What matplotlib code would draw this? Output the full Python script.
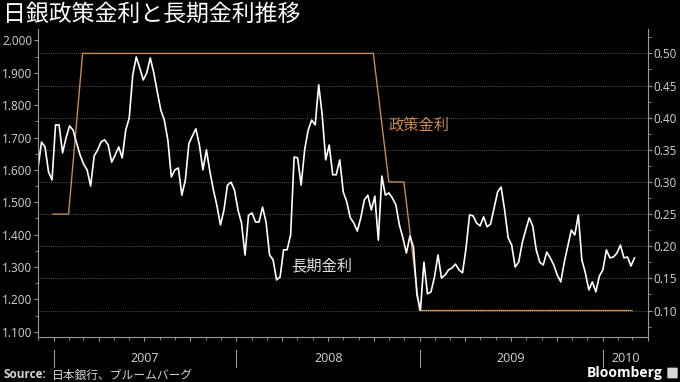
import matplotlib.pyplot as plt
import matplotlib.dates as mdates
import matplotlib.transforms as mtransforms
from matplotlib.patches import FancyBboxPatch
import pandas as pd

# fonts: latin first, japanese fallback
plt.rcParams['font.family'] = ['Open Sans', 'Noto Sans CJK JP', 'DejaVu Sans']

# --- data -----------------------------------------------------------------
title = '日銀政策金利と長期金利推移'
source_label = 'Source:'
source_text = '日本銀行、ブルームバーグ'

# long-term rate (10y JGB yield, %), weekly readings from 2006-12-01
jgb_dates = pd.date_range('2006-12-01', periods=171, freq='7D')
jgb_yield = [
    1.606, 1.686, 1.671, 1.594, 1.569, 1.739, 1.739, 1.653, 1.699, 1.736,
    1.723, 1.683, 1.646, 1.618, 1.600, 1.550, 1.643, 1.662, 1.687, 1.693,
    1.677, 1.624, 1.646, 1.671, 1.637, 1.723, 1.760, 1.893, 1.949, 1.915,
    1.878, 1.900, 1.946, 1.900, 1.841, 1.785, 1.754, 1.693, 1.578, 1.600,
    1.606, 1.522, 1.569, 1.681, 1.705, 1.727, 1.677, 1.600, 1.662, 1.594,
    1.538, 1.489, 1.430, 1.476, 1.553, 1.562, 1.538, 1.476, 1.436, 1.337,
    1.460, 1.467, 1.439, 1.439, 1.485, 1.439, 1.337, 1.322, 1.260, 1.269,
    1.353, 1.353, 1.399, 1.640, 1.637, 1.553, 1.662, 1.723, 1.754, 1.739,
    1.863, 1.770, 1.631, 1.677, 1.585, 1.585, 1.631, 1.532, 1.501, 1.452,
    1.436, 1.411, 1.452, 1.507, 1.522, 1.476, 1.519, 1.383, 1.581, 1.522,
    1.529, 1.513, 1.492, 1.430, 1.390, 1.343, 1.396, 1.362, 1.214, 1.167,
    1.315, 1.217, 1.223, 1.269, 1.337, 1.266, 1.275, 1.291, 1.297, 1.309,
    1.291, 1.282, 1.359, 1.461, 1.458, 1.436, 1.427, 1.455, 1.424, 1.433,
    1.482, 1.532, 1.547, 1.476, 1.390, 1.368, 1.300, 1.315, 1.374, 1.414,
    1.452, 1.427, 1.353, 1.315, 1.306, 1.346, 1.328, 1.306, 1.275, 1.254,
    1.315, 1.365, 1.414, 1.399, 1.461, 1.322, 1.282, 1.229, 1.254, 1.223,
    1.272, 1.291, 1.353, 1.328, 1.331, 1.343, 1.368, 1.328, 1.331, 1.303,
    1.328,
]

# BOJ policy rate (%), month end
policy_dates = pd.date_range('2006-12-31', '2010-02-28', freq='ME')
policy_rate = [
    0.25, 0.25, 0.50, 0.50, 0.50, 0.50, 0.50, 0.50, 0.50, 0.50,
    0.50, 0.50, 0.50, 0.50, 0.50, 0.50, 0.50, 0.50, 0.50, 0.50,
    0.50, 0.50, 0.30, 0.30, 0.10, 0.10, 0.10, 0.10, 0.10, 0.10,
    0.10, 0.10, 0.10, 0.10, 0.10, 0.10, 0.10, 0.10, 0.10,
]

years = ['2007', '2008', '2009', '2010']
year_starts = pd.to_datetime(['2007-01-01', '2008-01-01', '2009-01-01', '2010-01-01'])
year_label_pos = pd.to_datetime(['2007-07-02', '2008-07-02', '2009-07-02', '2010-02-15'])

# --- style ----------------------------------------------------------------
bg = 'black'
txt = '#d4d4d4'
axis_col = '#9a9a9a'
orange = '#c98a4b'

fig = plt.figure(figsize=(6.8, 3.82), dpi=100, facecolor=bg)
ax = fig.add_axes([38/680, 1-337/382, 610/680, 308/382])
ax2 = ax.twinx()

ax.set_zorder(2)
ax.patch.set_visible(False)
ax2.set_facecolor(bg)
ax2.patch.set_visible(True)

ax.plot(jgb_dates, jgb_yield, color='white', lw=1.2)
ax2.plot(policy_dates, policy_rate, color=orange, lw=1.0)

ax.set_xlim(pd.Timestamp('2006-12-01'), pd.Timestamp('2010-04-01'))
ax.set_ylim(1.0836, 2.0355)
ax2.set_ylim(0.0588, 0.538)

ax.set_yticks([1.1 + 0.1*i for i in range(10)])
ax.set_yticks([1.15 + 0.1*i for i in range(9)], minor=True)
ax.yaxis.set_major_formatter(plt.FormatStrFormatter('%.3f'))
ax2.set_yticks([0.10 + 0.05*i for i in range(9)])
ax2.set_yticks([0.075 + 0.05*i for i in range(10)], minor=True)
ax2.yaxis.set_major_formatter(plt.FormatStrFormatter('%.2f'))

ax.xaxis.set_major_locator(mdates.MonthLocator(bymonth=[1, 4, 7, 10]))
ax.xaxis.set_minor_locator(mdates.MonthLocator())
ax.xaxis.set_major_formatter(plt.NullFormatter())

for a in (ax, ax2):
    for s in a.spines.values():
        s.set_visible(False)
    a.tick_params(colors=axis_col, labelcolor=txt, labelsize=8.5, length=3, width=0.8)
    a.tick_params(which='minor', colors=axis_col, length=2, width=0.6)
ax.spines['left'].set_visible(True)
ax.spines['bottom'].set_visible(True)
ax.spines['left'].set_color(axis_col)
ax.spines['bottom'].set_color(axis_col)
ax2.spines['right'].set_visible(True)
ax2.spines['right'].set_color(axis_col)
ax.tick_params(axis='y', pad=1)
ax2.tick_params(axis='y', pad=1)

ax.grid(False)
ax2.grid(True, axis='y', color='#6a6a6a', ls=(0, (1, 1.5)), lw=0.6)
ax2.xaxis.grid(True, color='#5e5e5e', ls=(0, (1, 1.5)), lw=0.6)

# labels in the plot
ax2.text(pd.Timestamp('2008-12-30'), 0.387, '政策金利', color=orange,
         fontsize=11, ha='center', va='center')
ax.text(pd.Timestamp('2008-06-18'), 1.300, '長期金利', color='#e0e0e0',
        fontsize=11, ha='center', va='center')

# year labels and separators under the axis
tr = mtransforms.blended_transform_factory(ax.transData, fig.transFigure)
for d in year_starts:
    ax.plot([d, d], [1-350/382, 1-367/382], transform=tr, color=axis_col,
            lw=0.8, clip_on=False)
for lbl, d in zip(years, year_label_pos):
    ax.text(d, 1-358/382, lbl, transform=tr, color=txt, fontsize=9,
            ha='center', va='center')

fig.text(3/680, 1-14/382, title, color='white', fontsize=16.5,
         family='Noto Sans CJK JP', va='center', ha='left')
fig.text(3/680, 1-375/382, source_label, color=txt, fontsize=8.5,
         weight='bold', va='center', ha='left')
fig.text(52/680, 1-375/382, source_text, color=txt, fontsize=8.5,
         family='Noto Sans CJK JP', va='center', ha='left')
fig.text(663/680, 1-373/382, 'Bloomberg', color='white', fontsize=10,
         weight='bold', va='center', ha='right')
fig.patches.append(FancyBboxPatch((668/680, 1-378/382), 9/680, 10/382,
                                  boxstyle='round,pad=0.001', fc='#d8d8d8',
                                  ec='none', transform=fig.transFigure))

fig.savefig('out.png', dpi=100, facecolor=bg)
